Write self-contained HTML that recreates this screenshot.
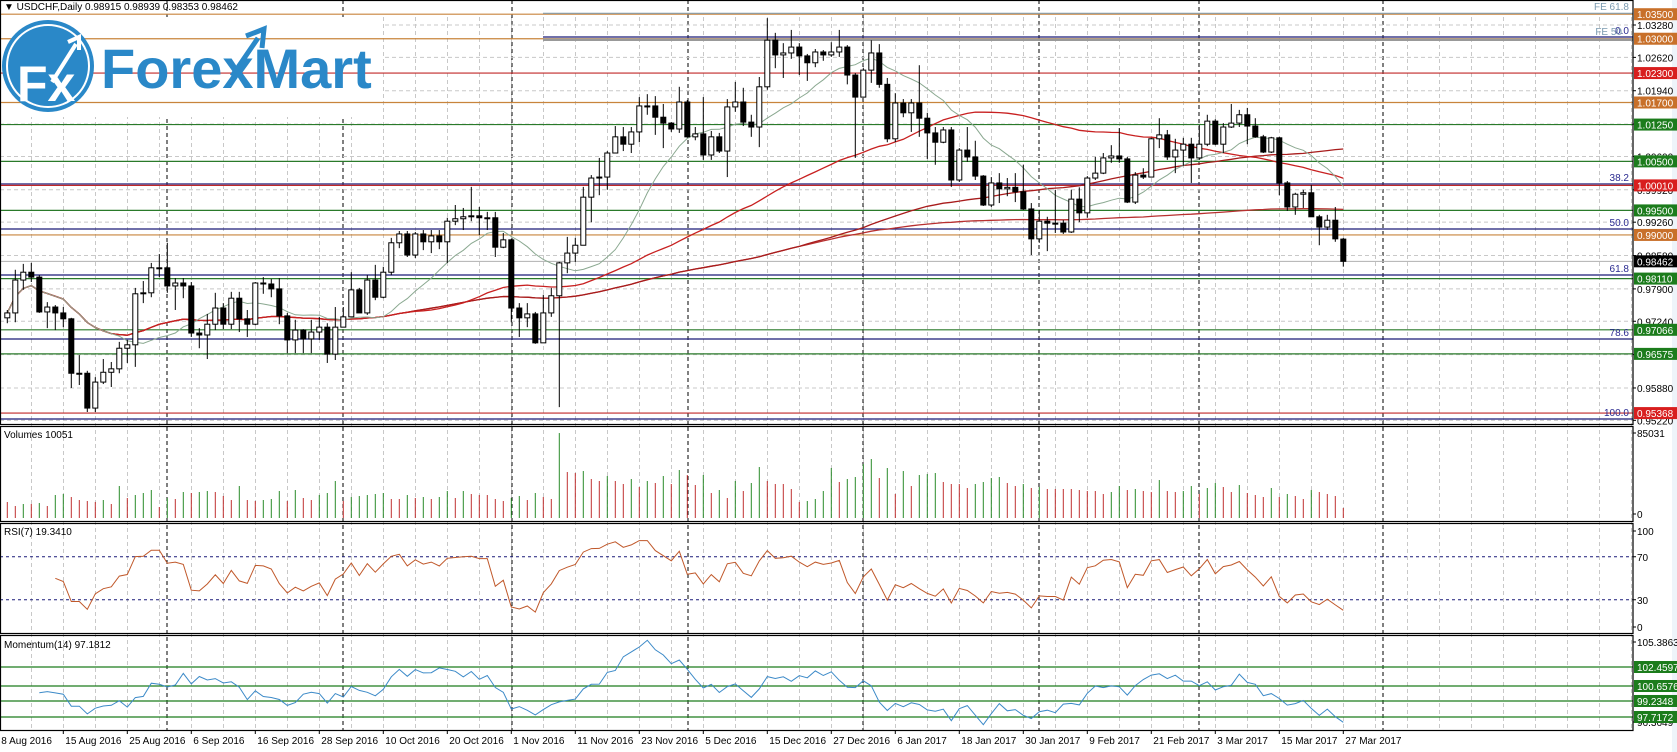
<!DOCTYPE html>
<html><head><meta charset="utf-8"><style>
html,body{margin:0;padding:0;background:#fff;width:1677px;height:752px;overflow:hidden}
svg{display:block;font-family:"Liberation Sans",sans-serif}
</style></head><body>
<svg id="chart" width="1677" height="752" viewBox="0 0 1677 752" xmlns="http://www.w3.org/2000/svg"></svg>
<script>
const closes=[0.9741,0.9808,0.9824,0.9814,0.9743,0.9753,0.9741,0.9729,0.9618,0.9618,0.9547,0.9600,0.9620,0.9627,0.9669,0.9676,0.9780,0.9782,0.9833,0.9833,0.9796,0.9802,0.9796,0.9700,0.9696,0.9718,0.9751,0.9718,0.9771,0.9729,0.9718,0.9802,0.9800,0.9790,0.9735,0.9686,0.9706,0.9688,0.9702,0.9712,0.9657,0.9712,0.9733,0.9788,0.9741,0.9808,0.9773,0.9824,0.9884,0.9902,0.9859,0.9902,
0.9886,0.9898,0.9886,0.9928,0.9933,0.9937,0.9939,0.9935,0.9935,0.9875,0.9890,0.9751,0.9731,0.9739,0.9680,0.9741,0.9776,0.9843,0.9863,0.9879,0.9977,1.0016,1.0018,1.0067,1.0100,1.0085,1.0110,1.0163,1.0163,1.0140,1.0128,1.0116,1.0171,1.0100,1.0106,1.0063,1.0100,1.0071,1.0161,1.0171,1.0130,1.0120,1.0202,1.0297,1.0267,1.0271,1.0283,1.0265,1.0251,1.0273,1.0267,1.0273,1.0283,
1.0226,1.0181,1.0236,1.0271,1.0207,1.0096,1.0169,1.0149,1.0169,1.0138,1.0108,1.0089,1.0114,1.0012,1.0073,1.0059,1.0020,0.9961,1.0006,0.9994,0.9997,0.9988,0.9953,0.9892,0.9928,0.9924,0.9924,0.9906,0.9973,0.9945,1.0016,1.0026,1.0057,1.0061,1.0055,0.9967,1.0022,1.0018,1.0096,1.0104,1.0059,1.0073,1.0085,1.0057,1.0085,1.0132,1.0085,1.0120,1.0128,1.0145,1.0122,1.0100,1.0069,1.0098,
1.0006,0.9957,0.9983,0.9986,0.9937,0.9916,0.9930,0.9892,0.98462];
const highs=[0.9747,0.9829,0.9841,0.9843,0.9818,0.9763,0.9757,0.9753,0.9731,0.9655,0.9623,0.9610,0.9647,0.9641,0.9682,0.9686,0.9792,0.9806,0.9843,0.9861,0.9884,0.9812,0.9812,0.9804,0.9710,0.9739,0.9782,0.9761,0.9784,0.9784,0.9747,0.9804,0.9814,0.9810,0.9812,0.9741,0.9727,0.9708,0.9727,0.9733,0.9720,0.9753,0.9753,0.9824,0.9792,0.9818,0.9839,0.9835,0.9894,0.9908,0.9908,0.9906,
0.9910,0.9910,0.9910,0.9935,0.9961,0.9955,0.9998,0.9957,0.9947,0.9947,0.9904,0.9892,0.9761,0.9761,0.9743,0.9778,0.9792,0.9845,0.9896,0.9894,0.9998,1.0022,1.0057,1.0071,1.0122,1.0120,1.0120,1.0181,1.0187,1.0183,1.0167,1.0130,1.0202,1.0175,1.0120,1.0181,1.0112,1.0108,1.0177,1.0212,1.0200,1.0145,1.0222,1.0342,1.0312,1.0291,1.0318,1.0291,1.0269,1.0279,1.0277,1.0293,1.0318,
1.0287,1.0230,1.0240,1.0297,1.0289,1.0220,1.0189,1.0177,1.0177,1.0246,1.0149,1.0120,1.0120,1.0120,1.0077,1.0120,1.0092,1.0022,1.0018,1.0026,1.0016,1.0026,1.0043,0.9965,0.9951,0.9937,0.9992,0.9930,0.9992,0.9997,1.0020,1.0059,1.0067,1.0083,1.0118,1.0059,1.0028,1.0036,1.0098,1.0138,1.0114,1.0096,1.0098,1.0098,1.0124,1.0145,1.0136,1.0128,1.0167,1.0155,1.0159,1.0138,1.0104,1.0100,
1.0100,1.0010,0.9986,0.9992,1.0002,0.9941,0.9941,0.9957,0.98939];
const lows=[0.9720,0.9722,0.9788,0.9804,0.9741,0.9710,0.9706,0.9712,0.9588,0.9594,0.9539,0.9539,0.9596,0.9590,0.9618,0.9639,0.9631,0.9761,0.9773,0.9814,0.9782,0.9747,0.9771,0.9692,0.9669,0.9647,0.9706,0.9708,0.9708,0.9702,0.9692,0.9716,0.9780,0.9773,0.9718,0.9659,0.9659,0.9659,0.9659,0.9686,0.9639,0.9645,0.9712,0.9733,0.9741,0.9737,0.9767,0.9771,0.9818,0.9873,0.9855,0.9853,
0.9869,0.9863,0.9871,0.9843,0.9920,0.9910,0.9928,0.9900,0.9910,0.9855,0.9873,0.9722,0.9692,0.9712,0.9678,0.9710,0.9733,0.9549,0.9822,0.9845,0.9879,0.9926,0.9981,0.9992,1.0067,1.0071,1.0067,1.0089,1.0145,1.0104,1.0077,1.0110,1.0108,1.0098,1.0093,1.0053,1.0053,1.0067,1.0018,1.0151,1.0122,1.0100,1.0079,1.0196,1.0240,1.0220,1.0259,1.0226,1.0214,1.0242,1.0255,1.0263,1.0263,
1.0207,1.0057,1.0196,1.0210,1.0200,1.0089,1.0089,1.0140,1.0110,1.0100,1.0055,1.0043,1.0087,0.9998,1.0008,1.0049,1.0012,0.9959,0.9957,0.9965,0.9979,0.9967,0.9951,0.9859,0.9884,0.9867,0.9904,0.9902,0.9904,0.9926,0.9935,1.0012,1.0024,1.0047,1.0047,0.9965,0.9963,1.0014,1.0018,1.0077,1.0053,1.0026,1.0041,1.0006,1.0053,1.0081,1.0083,1.0067,1.0118,1.0120,1.0085,1.0098,1.0067,1.0067,
0.9981,0.9949,0.9941,0.9955,0.9937,0.9879,0.9910,0.9886,0.98353];
const firstOpen=0.9731;
const lastOpen=0.98915;
const volumes=[16,12,14,14,15,12,23,24,21,18,17,16,18,14,32,20,23,25,28,11,20,19,26,25,26,27,26,22,18,32,18,17,18,19,27,17,28,20,18,23,25,37,17,21,22,23,24,25,19,19,23,20,21,19,21,27,20,27,24,23,23,19,17,20,22,18,25,21,19,85,
46,45,47,39,37,42,37,34,39,31,37,35,42,34,48,43,33,43,25,28,20,37,27,35,51,37,34,34,29,16,17,19,27,50,36,39,41,54,59,40,50,24,47,32,43,44,45,36,34,34,30,34,36,40,41,35,32,34,30,31,29,29,29,29,28,27,27,24,26,32,28,29,27,26,38,27,26,27,32,24,30,35,31,26,33,25,23,21,30,21,24,22,19,28,26,24,22,10];
const priceTicks=[1.0328,1.0262,1.0194,1.0126,1.0060,0.9992,0.9926,0.9858,0.9790,0.9724,0.9656,0.9588,0.9522];
const levelPrices=[1.0350,1.0300,1.0230,1.0170,1.0125,1.0050,1.0001,0.9950,0.9900,0.9811,0.97066,0.96575,0.95368];
const levelTexts=["1.03500","1.03000","1.02300","1.01700","1.01250","1.00500","1.00010","0.99500","0.99000","0.98110","0.97066","0.96575","0.95368"];
const levelKinds=["o","o","r","o","g","g","r","g","o","g","g","g","r"];
const fibPrices=[1.03035,1.0004,0.99121,0.98183,0.96878,0.95247];
const fibTexts=["0.0","38.2","50.0","61.8","78.6","100.0"];
const momLevels=[102.4597,100.6576,99.2348,97.7172];
const dateLabels=["8 Aug 2016","15 Aug 2016","25 Aug 2016","6 Sep 2016","16 Sep 2016","28 Sep 2016","10 Oct 2016","20 Oct 2016","1 Nov 2016","11 Nov 2016","23 Nov 2016","5 Dec 2016","15 Dec 2016","27 Dec 2016","6 Jan 2017","18 Jan 2017","30 Jan 2017","9 Feb 2017","21 Feb 2017","3 Mar 2017","15 Mar 2017","27 Mar 2017"];
const monthSepX=[167,343,512,688,863,1039,1199,1383];

const svg=document.getElementById('chart');
const NS='http://www.w3.org/2000/svg';
function mk(tag,attrs,parent){const e=document.createElementNS(NS,tag);for(const k in attrs)e.setAttribute(k,attrs[k]);(parent||svg).appendChild(e);return e;}
const AX=1633;
const xOf=i=>7.3+8*i;
const yP=p=>25+(1.0328-p)*4905;
const yV=v=>518-v/85.031*85;
const yR=v=>632-v*1.075;
const yM=v=>667+(102.4597-v)*10.54;
const colors={o:'#c8702a',r:'#d81e1e',g:'#1c7c1c'};
const lineColors={o:'#c8843c',r:'#c02828',g:'#2a7a2a'};

for(let x=31.5;x<AX;x+=32){
 const g=mk('line',{x1:x,y1:17,x2:x,y2:730,stroke:'#c8c8c8','stroke-dasharray':'4,3','stroke-width':1});
 
 
}
monthSepX.forEach(x=>{
 const g=mk('line',{x1:x,y1:0,x2:x,y2:730,stroke:'#000','stroke-dasharray':'4,3','stroke-width':1});
 
 
});
priceTicks.forEach(p=>{
 const y=yP(p);
 const g=mk('line',{x1:0,y1:y,x2:AX,y2:y,stroke:'#c8c8c8','stroke-dasharray':'4,3'});
 
 
});

const lb=mk('rect',{x:0,y:17,width:382,height:100,fill:'#fff'});



levelPrices.forEach((p,i)=>{
 const y=yP(p);
 const l=mk('line',{x1:0,y1:y,x2:AX,y2:y,stroke:lineColors[levelKinds[i]],'stroke-width':1.2});
 
 
});
fibPrices.forEach((p,i)=>{
 const y=yP(p);
 const l=mk('line',{x1:i==0?543:0,y1:y,x2:AX,y2:y,stroke:'#1a1a78','stroke-width':1.2});
 
 
 const t=mk('text',{x:1629,y:y-3,'font-size':10,fill:'#2a2a90','text-anchor':'end'});
 t.textContent=fibTexts[i];
 
 
});
const fe=mk('line',{x1:543,y1:yP(1.0350)-1,x2:AX,y2:yP(1.0350)-1,stroke:'#7a9ab0','stroke-width':1});


const fe2=mk('line',{x1:543,y1:yP(1.0298),x2:AX,y2:yP(1.0298),stroke:'#999','stroke-width':2.5});


const fet=mk('text',{x:1629,y:10,'font-size':10,fill:'#7a9ab0','text-anchor':'end'});
fet.textContent='FE 61.8';


const fet2=mk('text',{x:1622,y:35,'font-size':10,fill:'#7a9ab0','text-anchor':'end'});
fet2.textContent='FE 50';


const cur=mk('line',{x1:0,y1:yP(closes[closes.length-1]),x2:AX,y2:yP(closes[closes.length-1]),stroke:'#b0b0b0'});



function sma(n){return closes.map((c,i)=>{const s=Math.max(0,i-n+1);let t=0;for(let k=s;k<=i;k++)t+=closes[k];return t/(i-s+1);});}
[[200,'#b83030',1.3],[100,'#a81c1c',1.3],[50,'#c82020',1.3],[14,'#8aa890',1]].forEach(([n,c,w])=>{
 const m=sma(n);
 const pl=mk('polyline',{points:m.map((v,i)=>xOf(i)+','+yP(v).toFixed(1)).join(' '),fill:'none',stroke:c,'stroke-width':w});
 
 
});

closes.forEach((c,i)=>{
 const o=i==0?firstOpen:(i==closes.length-1?lastOpen:closes[i-1]);
 const x=xOf(i);
 const w=mk('line',{x1:x,y1:yP(highs[i]),x2:x,y2:yP(lows[i]),stroke:'#000','stroke-width':1});
 
 
 const top=yP(Math.max(o,c)),bot=yP(Math.min(o,c));
 const b=mk('rect',{x:x-2.5,y:top,width:5,height:Math.max(1,bot-top),fill:c>=o?'#fff':'#000',stroke:'#000','stroke-width':1});
 
 
});

volumes.forEach((v,i)=>{
 const up=i>0&&v>volumes[i-1];
 const l=mk('line',{x1:xOf(i),y1:518,x2:xOf(i),y2:yV(v),stroke:up?'#2a8a2a':'#c03030','stroke-width':1});
 
 
});

function rsi(n){const out=[];let ag=0,al=0;for(let i=1;i<closes.length;i++){const d=closes[i]-closes[i-1];const g=Math.max(d,0),l=Math.max(-d,0);if(i<=n){ag=(ag*(i-1)+g)/i;al=(al*(i-1)+l)/i;}else{ag=(ag*(n-1)+g)/n;al=(al*(n-1)+l)/n;}out[i]=al==0?100:100-100/(1+ag/al);}return out;}
const r=rsi(7);
[70,30].forEach(v=>{
 const l=mk('line',{x1:0,y1:yR(v),x2:AX,y2:yR(v),stroke:'#1a1a78','stroke-dasharray':'3,3'});
 
 
});
const rp=[];r.forEach((v,i)=>{if(v!==undefined&&i>=6)rp.push(xOf(i)+','+yR(v).toFixed(1));});
const rl=mk('polyline',{points:rp.join(' '),fill:'none',stroke:'#c0582a','stroke-width':1});



momLevels.forEach(v=>{
 const l=mk('line',{x1:0,y1:yM(v),x2:AX,y2:yM(v),stroke:'#1c7c1c','stroke-width':1.2});
 
 
});
const mp=[];closes.forEach((c,i)=>{if(i>=4)mp.push(xOf(i)+','+yM(c/closes[Math.max(0,i-14)]*100).toFixed(1));});
const ml=mk('polyline',{points:mp.join(' '),fill:'none',stroke:'#3c8ac8','stroke-width':1});



const axbg=mk('rect',{x:AX,y:0,width:1677-AX,height:752,fill:'#fff'});


[[0,424],[426,521],[523,633],[635,730]].forEach(([a,b],k)=>{
 const f=mk('rect',{x:0.5,y:a+0.5,width:AX-0.5,height:b-a,fill:'none',stroke:'#000','stroke-width':1.2});
 
 
});
const rb=mk('rect',{x:1672,y:0,width:5,height:752,fill:'#eef4fa'});



function axisText(txt,y,name){
 const t=mk('text',{x:AX+4,y:y+4,'font-size':10,fill:'#000'});
 t.textContent=txt;
 
 
 const tk=mk('line',{x1:AX,y1:y,x2:AX+3,y2:y,stroke:'#000'});
 
 
}
priceTicks.forEach(p=>axisText(p.toFixed(5),yP(p),'price-tick-label'));
axisText('85031',433,'volume-max-label');
axisText('0',514,'volume-zero-label');
[100,70,30,0].forEach(v=>axisText(String(v),v==100?531:(v==0?627:yR(v)),'rsi-tick-label'));
axisText('105.3863',642,'momentum-max-label');
axisText('96.3649',722,'momentum-min-label');

function tag(txt,y,bg,name){
 const r=mk('rect',{x:AX+1,y:y-6,width:43,height:12,fill:bg});
 
 
 const t=mk('text',{x:AX+4,y:y+4,'font-size':10,fill:'#fff'});
 t.textContent=txt;
 
 
}
levelPrices.forEach((p,i)=>tag(levelTexts[i],yP(p),colors[levelKinds[i]],'level-price-tag'));
tag(closes[closes.length-1].toFixed(5),yP(closes[closes.length-1]),'#000','current-price-tag');
momLevels.forEach(v=>tag(v.toFixed(4),yM(v),'#1c7c1c','momentum-level-tag'));

dateLabels.forEach((d,k)=>{
 const x=xOf(8*k-1);
 const tk=mk('line',{x1:x,y1:730,x2:x,y2:734,stroke:'#000'});
 
 
 const t=mk('text',{x:x+2,y:744,'font-size':10,fill:'#000'});
 t.textContent=d;
 
 
});

function title(txt,x,y,name){const t=mk('text',{x:x,y:y,'font-size':10,fill:'#000'});t.textContent=txt;}
title('\u25BC USDCHF,Daily  0.98915 0.98939 0.98353 0.98462',4,10,'symbol-header');
title('Volumes 10051',4,438,'volumes-title');
title('RSI(7) 19.3410',4,535,'rsi-title');
title('Momentum(14) 97.1812',4,648,'momentum-title');

const lc=mk('circle',{cx:48,cy:66,r:46,fill:'#2a88c8'});


const lr=mk('circle',{cx:48,cy:66,r:41,fill:'none',stroke:'#fff','stroke-width':2});


const lf=mk('text',{x:17,y:101,'font-size':50,'font-weight':'bold',fill:'#fff'});
lf.textContent='Fx';


const la=mk('path',{d:'M52 82 L76 44 M68 42 L79 37 L79 50',fill:'none',stroke:'#fff','stroke-width':4});


const lt=mk('text',{x:101,y:88,'font-size':56,'font-weight':'bold',fill:'#2a88c8'});
lt.textContent='ForexMart';


const la2=mk('path',{d:'M232 76 L258 38 M246 36 L264 29 L262 48',fill:'none',stroke:'#2a88c8','stroke-width':5});


</script>
</body></html>
